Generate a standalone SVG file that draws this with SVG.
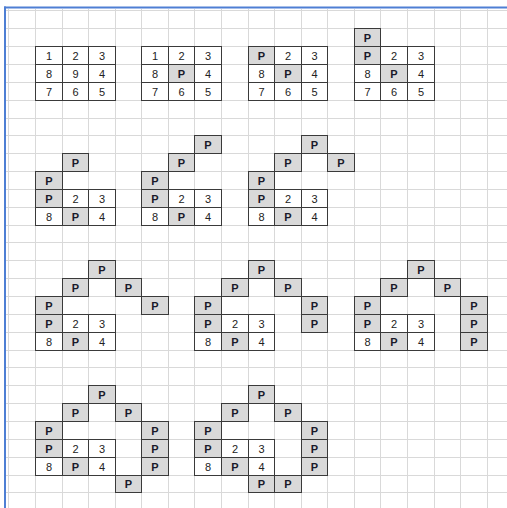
<svg xmlns="http://www.w3.org/2000/svg" width="507" height="508" viewBox="0 0 507 508">
<style>
.g{stroke:#d9d9d9;stroke-width:1;fill:none}
.c{fill:#ffffff;stroke:#3a3a3a;stroke-width:1}
.s{fill:#d9d9d9;stroke:#3a3a3a;stroke-width:1}
text{font-family:"Liberation Sans",Arial,sans-serif;font-size:11px;text-anchor:middle;fill:#222222}
.p{font-weight:bold;fill:#1a1a2a}
</style>
<rect x="0" y="0" width="507" height="508" fill="#ffffff"/>
<path class="g" d="M8.5 9V508M35.5 9V508M62.5 9V508M88.5 9V508M115.5 9V508M141.5 9V508M168.5 9V508M194.5 9V508M221.5 9V508M248.5 9V508M274.5 9V508M301.5 9V508M327.5 9V508M354.5 9V508M380.5 9V508M407.5 9V508M434.5 9V508M460.5 9V508M487.5 9V508
M6 10.5H507M6 28.5H507M6 46.5H507M6 64.5H507M6 82.5H507M6 100.5H507M6 118.5H507M6 135.5H507M6 153.5H507M6 171.5H507M6 189.5H507M6 207.5H507M6 225.5H507M6 242.5H507M6 260.5H507M6 278.5H507M6 296.5H507M6 314.5H507M6 332.5H507M6 350.5H507M6 367.5H507M6 385.5H507M6 403.5H507M6 421.5H507M6 439.5H507M6 457.5H507M6 475.5H507M6 492.5H507"/>
<rect x="4" y="6.5" width="503" height="2" fill="#4e7fd4"/>
<rect x="4" y="6.5" width="2" height="502" fill="#4e7fd4"/>

<g id="d1">
<rect class="c" x="35.5" y="46.5" width="27" height="18"/><rect class="c" x="62.5" y="46.5" width="26" height="18"/><rect class="c" x="88.5" y="46.5" width="27" height="18"/>
<rect class="c" x="35.5" y="64.5" width="27" height="18"/><rect class="c" x="62.5" y="64.5" width="26" height="18"/><rect class="c" x="88.5" y="64.5" width="27" height="18"/>
<rect class="c" x="35.5" y="82.5" width="27" height="18"/><rect class="c" x="62.5" y="82.5" width="26" height="18"/><rect class="c" x="88.5" y="82.5" width="27" height="18"/>
<text x="49" y="59.5">1</text><text x="75.5" y="59.5">2</text><text x="102" y="59.5">3</text>
<text x="49" y="77.5">8</text><text x="75.5" y="77.5">9</text><text x="102" y="77.5">4</text>
<text x="49" y="95.5">7</text><text x="75.5" y="95.5">6</text><text x="102" y="95.5">5</text>
</g>

<g id="d2">
<rect class="c" x="141.5" y="46.5" width="27" height="18"/><rect class="c" x="168.5" y="46.5" width="26" height="18"/><rect class="c" x="194.5" y="46.5" width="27" height="18"/>
<rect class="c" x="141.5" y="64.5" width="27" height="18"/><rect class="s" x="168.5" y="64.5" width="26" height="18"/><rect class="c" x="194.5" y="64.5" width="27" height="18"/>
<rect class="c" x="141.5" y="82.5" width="27" height="18"/><rect class="c" x="168.5" y="82.5" width="26" height="18"/><rect class="c" x="194.5" y="82.5" width="27" height="18"/>
<text x="155" y="59.5">1</text><text x="181.5" y="59.5">2</text><text x="208" y="59.5">3</text>
<text x="155" y="77.5">8</text><text class="p" x="181.5" y="77.5">P</text><text x="208" y="77.5">4</text>
<text x="155" y="95.5">7</text><text x="181.5" y="95.5">6</text><text x="208" y="95.5">5</text>
</g>

<g id="d3">
<rect class="s" x="248.5" y="46.5" width="26" height="18"/><rect class="c" x="274.5" y="46.5" width="27" height="18"/><rect class="c" x="301.5" y="46.5" width="26" height="18"/>
<rect class="c" x="248.5" y="64.5" width="26" height="18"/><rect class="s" x="274.5" y="64.5" width="27" height="18"/><rect class="c" x="301.5" y="64.5" width="26" height="18"/>
<rect class="c" x="248.5" y="82.5" width="26" height="18"/><rect class="c" x="274.5" y="82.5" width="27" height="18"/><rect class="c" x="301.5" y="82.5" width="26" height="18"/>
<text class="p" x="261.5" y="59.5">P</text><text x="288" y="59.5">2</text><text x="314.5" y="59.5">3</text>
<text x="261.5" y="77.5">8</text><text class="p" x="288" y="77.5">P</text><text x="314.5" y="77.5">4</text>
<text x="261.5" y="95.5">7</text><text x="288" y="95.5">6</text><text x="314.5" y="95.5">5</text>
</g>

<g id="d4">
<rect class="s" x="354.5" y="28.5" width="26" height="18"/>
<rect class="s" x="354.5" y="46.5" width="26" height="18"/><rect class="c" x="380.5" y="46.5" width="27" height="18"/><rect class="c" x="407.5" y="46.5" width="27" height="18"/>
<rect class="c" x="354.5" y="64.5" width="26" height="18"/><rect class="s" x="380.5" y="64.5" width="27" height="18"/><rect class="c" x="407.5" y="64.5" width="27" height="18"/>
<rect class="c" x="354.5" y="82.5" width="26" height="18"/><rect class="c" x="380.5" y="82.5" width="27" height="18"/><rect class="c" x="407.5" y="82.5" width="27" height="18"/>
<text class="p" x="367.5" y="41.5">P</text>
<text class="p" x="367.5" y="59.5">P</text><text x="394" y="59.5">2</text><text x="421" y="59.5">3</text>
<text x="367.5" y="77.5">8</text><text class="p" x="394" y="77.5">P</text><text x="421" y="77.5">4</text>
<text x="367.5" y="95.5">7</text><text x="394" y="95.5">6</text><text x="421" y="95.5">5</text>
</g>

<g id="d5">
<rect class="s" x="62.5" y="153.5" width="26" height="18"/>
<rect class="s" x="35.5" y="171.5" width="27" height="18"/>
<rect class="s" x="35.5" y="189.5" width="27" height="18"/><rect class="c" x="62.5" y="189.5" width="26" height="18"/><rect class="c" x="88.5" y="189.5" width="27" height="18"/>
<rect class="c" x="35.5" y="207.5" width="27" height="18"/><rect class="s" x="62.5" y="207.5" width="26" height="18"/><rect class="c" x="88.5" y="207.5" width="27" height="18"/>
<text class="p" x="75.5" y="166.5">P</text>
<text class="p" x="49" y="184.5">P</text>
<text class="p" x="49" y="202.5">P</text><text x="75.5" y="202.5">2</text><text x="102" y="202.5">3</text>
<text x="49" y="220.5">8</text><text class="p" x="75.5" y="220.5">P</text><text x="102" y="220.5">4</text>
</g>

<g id="d6">
<rect class="s" x="194.5" y="135.5" width="27" height="18"/>
<rect class="s" x="168.5" y="153.5" width="26" height="18"/>
<rect class="s" x="141.5" y="171.5" width="27" height="18"/>
<rect class="s" x="141.5" y="189.5" width="27" height="18"/><rect class="c" x="168.5" y="189.5" width="26" height="18"/><rect class="c" x="194.5" y="189.5" width="27" height="18"/>
<rect class="c" x="141.5" y="207.5" width="27" height="18"/><rect class="s" x="168.5" y="207.5" width="26" height="18"/><rect class="c" x="194.5" y="207.5" width="27" height="18"/>
<text class="p" x="208" y="148.5">P</text>
<text class="p" x="181.5" y="166.5">P</text>
<text class="p" x="155" y="184.5">P</text>
<text class="p" x="155" y="202.5">P</text><text x="181.5" y="202.5">2</text><text x="208" y="202.5">3</text>
<text x="155" y="220.5">8</text><text class="p" x="181.5" y="220.5">P</text><text x="208" y="220.5">4</text>
</g>

<g id="d7">
<rect class="s" x="301.5" y="135.5" width="26" height="18"/>
<rect class="s" x="274.5" y="153.5" width="27" height="18"/><rect class="s" x="327.5" y="153.5" width="27" height="18"/>
<rect class="s" x="248.5" y="171.5" width="26" height="18"/>
<rect class="s" x="248.5" y="189.5" width="26" height="18"/><rect class="c" x="274.5" y="189.5" width="27" height="18"/><rect class="c" x="301.5" y="189.5" width="26" height="18"/>
<rect class="c" x="248.5" y="207.5" width="26" height="18"/><rect class="s" x="274.5" y="207.5" width="27" height="18"/><rect class="c" x="301.5" y="207.5" width="26" height="18"/>
<text class="p" x="314.5" y="148.5">P</text>
<text class="p" x="288" y="166.5">P</text><text class="p" x="341" y="166.5">P</text>
<text class="p" x="261.5" y="184.5">P</text>
<text class="p" x="261.5" y="202.5">P</text><text x="288" y="202.5">2</text><text x="314.5" y="202.5">3</text>
<text x="261.5" y="220.5">8</text><text class="p" x="288" y="220.5">P</text><text x="314.5" y="220.5">4</text>
</g>

<g id="d8">
<rect class="s" x="88.5" y="260.5" width="27" height="18"/>
<rect class="s" x="62.5" y="278.5" width="26" height="18"/><rect class="s" x="115.5" y="278.5" width="26" height="18"/>
<rect class="s" x="35.5" y="296.5" width="27" height="18"/><rect class="s" x="141.5" y="296.5" width="27" height="18"/>
<rect class="s" x="35.5" y="314.5" width="27" height="18"/><rect class="c" x="62.5" y="314.5" width="26" height="18"/><rect class="c" x="88.5" y="314.5" width="27" height="18"/>
<rect class="c" x="35.5" y="332.5" width="27" height="18"/><rect class="s" x="62.5" y="332.5" width="26" height="18"/><rect class="c" x="88.5" y="332.5" width="27" height="18"/>
<text class="p" x="102" y="273.5">P</text>
<text class="p" x="75.5" y="291.5">P</text><text class="p" x="128.5" y="291.5">P</text>
<text class="p" x="49" y="309.5">P</text><text class="p" x="155" y="309.5">P</text>
<text class="p" x="49" y="327.5">P</text><text x="75.5" y="327.5">2</text><text x="102" y="327.5">3</text>
<text x="49" y="345.5">8</text><text class="p" x="75.5" y="345.5">P</text><text x="102" y="345.5">4</text>
</g>

<g id="d9">
<rect class="s" x="248.5" y="260.5" width="26" height="18"/>
<rect class="s" x="221.5" y="278.5" width="27" height="18"/><rect class="s" x="274.5" y="278.5" width="27" height="18"/>
<rect class="s" x="194.5" y="296.5" width="27" height="18"/><rect class="s" x="301.5" y="296.5" width="26" height="18"/>
<rect class="s" x="194.5" y="314.5" width="27" height="18"/><rect class="c" x="221.5" y="314.5" width="27" height="18"/><rect class="c" x="248.5" y="314.5" width="26" height="18"/><rect class="s" x="301.5" y="314.5" width="26" height="18"/>
<rect class="c" x="194.5" y="332.5" width="27" height="18"/><rect class="s" x="221.5" y="332.5" width="27" height="18"/><rect class="c" x="248.5" y="332.5" width="26" height="18"/>
<text class="p" x="261.5" y="273.5">P</text>
<text class="p" x="235" y="291.5">P</text><text class="p" x="288" y="291.5">P</text>
<text class="p" x="208" y="309.5">P</text><text class="p" x="314.5" y="309.5">P</text>
<text class="p" x="208" y="327.5">P</text><text x="235" y="327.5">2</text><text x="261.5" y="327.5">3</text><text class="p" x="314.5" y="327.5">P</text>
<text x="208" y="345.5">8</text><text class="p" x="235" y="345.5">P</text><text x="261.5" y="345.5">4</text>
</g>

<g id="d10">
<rect class="s" x="407.5" y="260.5" width="27" height="18"/>
<rect class="s" x="380.5" y="278.5" width="27" height="18"/><rect class="s" x="434.5" y="278.5" width="26" height="18"/>
<rect class="s" x="354.5" y="296.5" width="26" height="18"/><rect class="s" x="460.5" y="296.5" width="27" height="18"/>
<rect class="s" x="354.5" y="314.5" width="26" height="18"/><rect class="c" x="380.5" y="314.5" width="27" height="18"/><rect class="c" x="407.5" y="314.5" width="27" height="18"/><rect class="s" x="460.5" y="314.5" width="27" height="18"/>
<rect class="c" x="354.5" y="332.5" width="26" height="18"/><rect class="s" x="380.5" y="332.5" width="27" height="18"/><rect class="c" x="407.5" y="332.5" width="27" height="18"/><rect class="s" x="460.5" y="332.5" width="27" height="18"/>
<text class="p" x="421" y="273.5">P</text>
<text class="p" x="394" y="291.5">P</text><text class="p" x="447.5" y="291.5">P</text>
<text class="p" x="367.5" y="309.5">P</text><text class="p" x="474" y="309.5">P</text>
<text class="p" x="367.5" y="327.5">P</text><text x="394" y="327.5">2</text><text x="421" y="327.5">3</text><text class="p" x="474" y="327.5">P</text>
<text x="367.5" y="345.5">8</text><text class="p" x="394" y="345.5">P</text><text x="421" y="345.5">4</text><text class="p" x="474" y="345.5">P</text>
</g>

<g id="d11">
<rect class="s" x="88.5" y="385.5" width="27" height="18"/>
<rect class="s" x="62.5" y="403.5" width="26" height="18"/><rect class="s" x="115.5" y="403.5" width="26" height="18"/>
<rect class="s" x="35.5" y="421.5" width="27" height="18"/><rect class="s" x="141.5" y="421.5" width="27" height="18"/>
<rect class="s" x="35.5" y="439.5" width="27" height="18"/><rect class="c" x="62.5" y="439.5" width="26" height="18"/><rect class="c" x="88.5" y="439.5" width="27" height="18"/><rect class="s" x="141.5" y="439.5" width="27" height="18"/>
<rect class="c" x="35.5" y="457.5" width="27" height="18"/><rect class="s" x="62.5" y="457.5" width="26" height="18"/><rect class="c" x="88.5" y="457.5" width="27" height="18"/><rect class="s" x="141.5" y="457.5" width="27" height="18"/>
<rect class="s" x="115.5" y="475.5" width="26" height="17"/>
<text class="p" x="102" y="398.5">P</text>
<text class="p" x="75.5" y="416.5">P</text><text class="p" x="128.5" y="416.5">P</text>
<text class="p" x="49" y="434.5">P</text><text class="p" x="155" y="434.5">P</text>
<text class="p" x="49" y="452.5">P</text><text x="75.5" y="452.5">2</text><text x="102" y="452.5">3</text><text class="p" x="155" y="452.5">P</text>
<text x="49" y="470.5">8</text><text class="p" x="75.5" y="470.5">P</text><text x="102" y="470.5">4</text><text class="p" x="155" y="470.5">P</text>
<text class="p" x="128.5" y="488">P</text>
</g>

<g id="d12">
<rect class="s" x="248.5" y="385.5" width="26" height="18"/>
<rect class="s" x="221.5" y="403.5" width="27" height="18"/><rect class="s" x="274.5" y="403.5" width="27" height="18"/>
<rect class="s" x="194.5" y="421.5" width="27" height="18"/><rect class="s" x="301.5" y="421.5" width="26" height="18"/>
<rect class="s" x="194.5" y="439.5" width="27" height="18"/><rect class="c" x="221.5" y="439.5" width="27" height="18"/><rect class="c" x="248.5" y="439.5" width="26" height="18"/><rect class="s" x="301.5" y="439.5" width="26" height="18"/>
<rect class="c" x="194.5" y="457.5" width="27" height="18"/><rect class="s" x="221.5" y="457.5" width="27" height="18"/><rect class="c" x="248.5" y="457.5" width="26" height="18"/><rect class="s" x="301.5" y="457.5" width="26" height="18"/>
<rect class="s" x="248.5" y="475.5" width="26" height="17"/><rect class="s" x="274.5" y="475.5" width="27" height="17"/>
<text class="p" x="261.5" y="398.5">P</text>
<text class="p" x="235" y="416.5">P</text><text class="p" x="288" y="416.5">P</text>
<text class="p" x="208" y="434.5">P</text><text class="p" x="314.5" y="434.5">P</text>
<text class="p" x="208" y="452.5">P</text><text x="235" y="452.5">2</text><text x="261.5" y="452.5">3</text><text class="p" x="314.5" y="452.5">P</text>
<text x="208" y="470.5">8</text><text class="p" x="235" y="470.5">P</text><text x="261.5" y="470.5">4</text><text class="p" x="314.5" y="470.5">P</text>
<text class="p" x="261.5" y="488">P</text><text class="p" x="288" y="488">P</text>
</g>
</svg>
